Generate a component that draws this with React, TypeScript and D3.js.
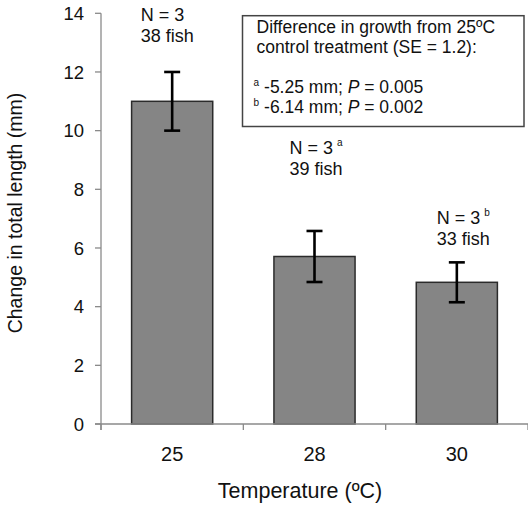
import React from 'react';
import * as d3 from 'd3';

// growth by rearing temperature
const categories = ['25', '28', '30'];
const meanGrowth = [11.0, 5.71, 4.83];
const seGrowth = [1.0, 0.87, 0.68];
const yTicks = [0, 2, 4, 6, 8, 10, 12, 14];

const nLabels = ['N = 3', 'N = 3', 'N = 3'];
const nMarks = ['', 'a', 'b'];
const fishLabels = ['38 fish', '39 fish', '33 fish'];

const noteLines = ['Difference in growth from 25ºC', 'control treatment (SE = 1.2):'];
const noteMarks = ['a', 'b'];
const noteDiffs = ['-5.25 mm; ', '-6.14 mm; '];
const noteP = ['0.005', '0.002'];

// hand placed label spots (offset from bar centre, baseline in data units)
const labelDx = [-31.5, -25, -20];
const labelAt = [13.02, 8.48, 6.1];

const W = 528, H = 508;
const FONT = '"Liberation Sans", Arial, Helvetica, sans-serif';

export default function App() {
  const x = d3.scaleBand()
    .domain(categories)
    .range([101, 528])
    .paddingInner(0.43)
    .paddingOuter(0.215);
  const y = d3.scaleLinear().domain([0, 14]).range([424, 13.3]);

  const step = x.step();
  const x0 = 101;
  const boundaries = d3.range(categories.length + 1).map(i => x0 + i * step);

  return (
    <svg width={W} height={H} style={{ position: 'absolute', left: 0, top: 0 }}
      fontFamily={FONT}>
      <rect width={W} height={H} fill="#fff" />

      {/* bars */}
      {categories.map((c, i) => (
        <rect key={c} x={x(c)} y={y(meanGrowth[i])} width={x.bandwidth()}
          height={y(0) - y(meanGrowth[i])} fill="#858585" stroke="#2b2b2b" strokeWidth={1.5} />
      ))}

      {/* error bars */}
      {categories.map((c, i) => {
        const cx = (x(c) as number) + x.bandwidth() / 2;
        const hi = y(meanGrowth[i] + seGrowth[i]);
        const lo = y(meanGrowth[i] - seGrowth[i]);
        return (
          <g key={c} stroke="#000" strokeWidth={2.6}>
            <line x1={cx} x2={cx} y1={hi} y2={lo} />
            <line x1={cx - 8} x2={cx + 8} y1={hi} y2={hi} />
            <line x1={cx - 8} x2={cx + 8} y1={lo} y2={lo} />
          </g>
        );
      })}

      {/* y axis */}
      <g stroke="#8a8a8a" strokeWidth={1.3}>
        <line x1={x0} x2={x0} y1={y(14)} y2={y(0) + 6} />
        {yTicks.map(t => (
          <line key={t} x1={x0 - 6} x2={x0} y1={y(t)} y2={y(t)} />
        ))}
      </g>
      {yTicks.map(t => (
        <text key={t} x={84} y={y(t)} dy="0.36em" textAnchor="end" fontSize={18.5} fill="#111">{t}</text>
      ))}

      {/* x axis */}
      <g stroke="#8a8a8a" strokeWidth={1.3}>
        <line x1={x0 - 6} x2={W} y1={y(0)} y2={y(0)} />
        {boundaries.map((b, i) => (
          <line key={i} x1={b} x2={b} y1={y(0)} y2={y(0) + 6} />
        ))}
      </g>
      {categories.map(c => (
        <text key={c} x={(x(c) as number) + x.bandwidth() / 2} y={461} textAnchor="middle"
          fontSize={20} fill="#111">{c}</text>
      ))}

      {/* axis titles */}
      <text x={300} y={498} textAnchor="middle" fontSize={21.5} fill="#111">Temperature (ºC)</text>
      <text transform="translate(22,213) rotate(-90)" textAnchor="middle" fontSize={19.5} fill="#111">
        Change in total length (mm)
      </text>

      {/* sample size labels */}
      {categories.map((c, i) => {
        const lx = (x(c) as number) + x.bandwidth() / 2 + labelDx[i];
        const by = y(labelAt[i]);
        return (
          <g key={c} fontSize={18} fill="#111">
            <text x={lx} y={by - 21.5}>
              {nLabels[i]}
              {nMarks[i] && <tspan fontSize={10} dx={4} dy={-8}>{nMarks[i]}</tspan>}
            </text>
            <text x={lx} y={by}>{fishLabels[i]}</text>
          </g>
        );
      })}

      {/* note box */}
      <rect x={242.5} y={15.7} width={281.5} height={110.8} fill="#fff" stroke="#444" strokeWidth={1.5} />
      <g fontSize={17.5} fill="#111">
        {noteLines.map((l, i) => (
          <text key={l} x={256.5} y={32.7 + i * 20}>{l}</text>
        ))}
        {noteMarks.map((m, i) => (
          <text key={m} x={253.5} y={93.3 + i * 20}>
            <tspan fontSize={10} dy={-7}>{m}</tspan>
            <tspan dx={5} dy={7}>{noteDiffs[i]}</tspan>
            <tspan fontStyle="italic">P</tspan>
            <tspan>{' = ' + noteP[i]}</tspan>
          </text>
        ))}
      </g>
    </svg>
  );
}
